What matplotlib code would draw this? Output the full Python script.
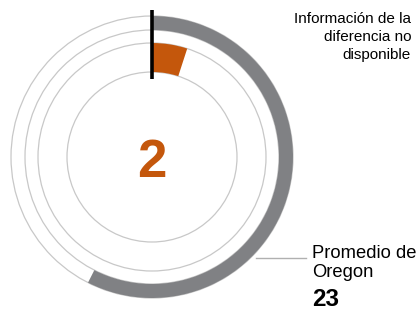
import matplotlib.pyplot as plt
from matplotlib.patches import Wedge, Circle

plt.rcParams['font.family'] = ['Liberation Sans', 'DejaVu Sans']

# data
value = 2
state_avg = 23
scale_max = 40
note_lines = ["Información de la", "diferencia no", "disponible"]
avg_label = "Promedio de\nOregon"

orange = "#c4570c"
gray = "#808184"
ring = "#c8c8c8"

fig = plt.figure(figsize=(4.2, 3.11), dpi=100)
ax = fig.add_axes([0, 0, 1, 1])
ax.set_xlim(0, 420)
ax.set_ylim(0, 311)
ax.set_aspect("equal")
ax.axis("off")

cx, cy = 152, 154
for r in (141, 127, 114, 85):
    ax.add_patch(Circle((cx, cy), r, fill=False, ec=ring, lw=0.9))

# state average ring
a_avg = state_avg / scale_max * 360
ax.add_patch(Wedge((cx, cy), 141, 90 - a_avg, 90, width=14, fc=gray, ec="none"))

# value wedge
a_val = value / scale_max * 360
ax.add_patch(Wedge((cx, cy), 114, 90 - a_val, 90, width=29, fc=orange, ec="none"))

# zero marker
ax.plot([cx, cx], [311 - 10, 311 - 79], color="black", lw=2.6, solid_capstyle="butt")

ax.text(cx, cy - 6, str(value), color=orange, fontsize=38, fontweight="bold",
        ha="center", va="center")

ax.text(411, 311 - 12, "\n".join(note_lines), ha="right", va="top", fontsize=11,
        linespacing=1.38)

ax.plot([256, 306], [311 - 258, 311 - 258], color="#b0b0b0", lw=1)
ax.text(312, 311 - 245, avg_label, ha="left", va="top", fontsize=13.2, linespacing=1.15)
ax.text(312, 311 - 299, str(state_avg), ha="left", va="center", fontsize=17.5,
        fontweight="bold")

fig.savefig("out.png", dpi=100)
